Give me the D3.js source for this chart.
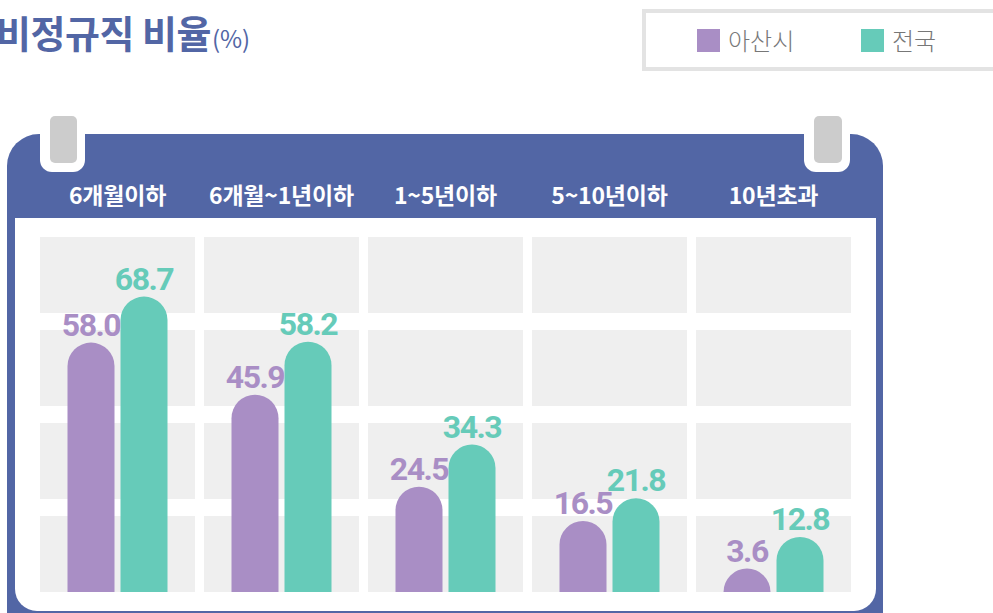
<!DOCTYPE html>
<html>
<head>
<meta charset="utf-8">
<script src="https://cdn.jsdelivr.net/npm/d3@7"></script>
<style>
  body { margin: 0; background: #fff; }
  svg { display: block; }
  text { font-family: "Noto Sans CJK KR", "Noto Sans", sans-serif; }
  .num { font-family: Roboto, "Noto Sans", sans-serif; }
</style>
</head>
<body>
<script>
let categories = ["6개월이하", "6개월~1년이하", "1~5년이하", "5~10년이하", "10년초과"];
let seriesNames = ["아산시", "전국"];
let asan = [58.0, 45.9, 24.5, 16.5, 3.6];
let national = [68.7, 58.2, 34.3, 21.8, 12.8];
let gridRows = [0, 1, 2, 3];

let colors = ["#a98ec5", "#66cbb9"];
let blue = "#5266a5";

let canvas = d3.select("body")
            .append("svg")
            .attr("width", 993)
            .attr("height", 613);

// title (left edge is cut off in the original too)
let title = canvas.append("text")
            .attr("x", -4)
            .attr("y", 48)
            .attr("fill", blue)
            .attr("font-size", 38)
            .attr("font-weight", 700)
            .attr("letter-spacing", -0.5);
title.append("tspan").text("비정규직 비율");
title.append("tspan")
    .attr("font-size", 24)
    .attr("font-weight", 400)
    .attr("letter-spacing", 0)
    .attr("dx", 1)
    .text("(%)");

// legend
canvas.append("rect")
    .attr("x", 644).attr("y", 11)
    .attr("width", 400).attr("height", 58)
    .attr("fill", "#fff")
    .attr("stroke", "#e3e3e3")
    .attr("stroke-width", 4);

let legendX = d3.scalePoint().domain(seriesNames).range([697, 861]);
let legend = canvas.selectAll(".legend")
            .data(seriesNames)
            .enter().append("g")
            .attr("transform", d => `translate(${legendX(d)},29)`);
legend.append("rect")
    .attr("width", 23).attr("height", 23)
    .attr("fill", (d, i) => colors[i]);
legend.append("text")
    .attr("x", 31).attr("y", 21)
    .attr("font-size", 24)
    .attr("font-weight", 300)
    .attr("fill", "#777")
    .text(d => d);

// calendar frame
let roundTop = (x0, y0, x1, y1, r) =>
    `M${x0},${y1} V${y0 + r} A${r},${r} 0 0 1 ${x0 + r},${y0} H${x1 - r} A${r},${r} 0 0 1 ${x1},${y0 + r} V${y1} Z`;
let roundBottom = (x0, y0, x1, y1, r) =>
    `M${x0},${y0} H${x1} V${y1 - r} A${r},${r} 0 0 1 ${x1 - r},${y1} H${x0 + r} A${r},${r} 0 0 1 ${x0},${y1 - r} Z`;

canvas.append("path")
    .attr("d", roundTop(7, 134, 883, 640, 32) )
    .attr("fill", blue);
canvas.append("path")
    .attr("d", roundBottom(15, 218, 876, 611, 22))
    .attr("fill", "#fff");

// binder clips
[[40, 85, 50, 77], [804, 850, 814, 842]].forEach(c => {
    canvas.append("path")
        .attr("d", roundBottom(c[0], 120, c[1], 172, 12))
        .attr("fill", "#fff");
    canvas.append("rect")
        .attr("x", c[2]).attr("y", 116)
        .attr("width", c[3] - c[2]).attr("height", 47)
        .attr("rx", 5)
        .attr("fill", "#cccccc");
});

// scales
let x0 = d3.scaleBand()
        .domain(categories)
        .range([40, 851])
        .paddingInner(9 / 164)
        .paddingOuter(0);

let x1 = d3.scaleBand()
        .domain(seriesNames)
        .range([27.5, 127.5])
        .paddingInner(6 / 53)
        .paddingOuter(0);

let rows = d3.scaleBand()
        .domain(gridRows)
        .range([237, 592])
        .paddingInner(17 / 93)
        .paddingOuter(0);

let y = d3.scaleLinear()
        .domain([0, 80])
        .range([592, 248]);

// header labels
canvas.selectAll(".cat")
    .data(categories)
    .enter().append("text")
    .attr("x", d => x0(d) + x0.bandwidth() / 2)
    .attr("y", 204)
    .attr("text-anchor", "middle")
    .attr("fill", "#fff")
    .attr("font-size", 23)
    .attr("font-weight", 700)
    .attr("letter-spacing", -0.2)
    .text(d => d);

// grey cells
let cells = [];
categories.forEach(c => gridRows.forEach(r => cells.push([c, r])));
canvas.selectAll(".cell")
    .data(cells)
    .enter().append("rect")
    .attr("x", d => x0(d[0]))
    .attr("y", d => rows(d[1]))
    .attr("width", x0.bandwidth())
    .attr("height", rows.bandwidth())
    .attr("fill", "#efefef");

// bars
let bars = [];
categories.forEach((c, i) => {
    bars.push({cat: c, s: seriesNames[0], v: asan[i], k: 0});
    bars.push({cat: c, s: seriesNames[1], v: national[i], k: 1});
});

let bw = x1.bandwidth();
let r = bw / 2;
let barTop = d => Math.min(y(d.v), y(0) - r);
let barPath = d => {
    let bx = x0(d.cat) + x1(d.s);
    let top = barTop(d);
    return `M${bx},${y(0)} V${top + r} A${r},${r} 0 0 1 ${bx + bw},${top + r} V${y(0)} Z`;
};

canvas.selectAll(".bar")
    .data(bars)
    .enter().append("path")
    .attr("d", barPath)
    .attr("fill", d => colors[d.k]);

canvas.selectAll(".val")
    .data(bars)
    .enter().append("text")
    .attr("class", "num")
    .attr("x", d => x0(d.cat) + x1(d.s) + bw / 2)
    .attr("y", d => barTop(d) - 7)
    .attr("text-anchor", "middle")
    .attr("font-size", 32)
    .attr("font-weight", 700)
    .attr("letter-spacing", -1.5)
    .attr("fill", d => colors[d.k])
    .text(d => d.v.toFixed(1));
</script>
</body>
</html>
